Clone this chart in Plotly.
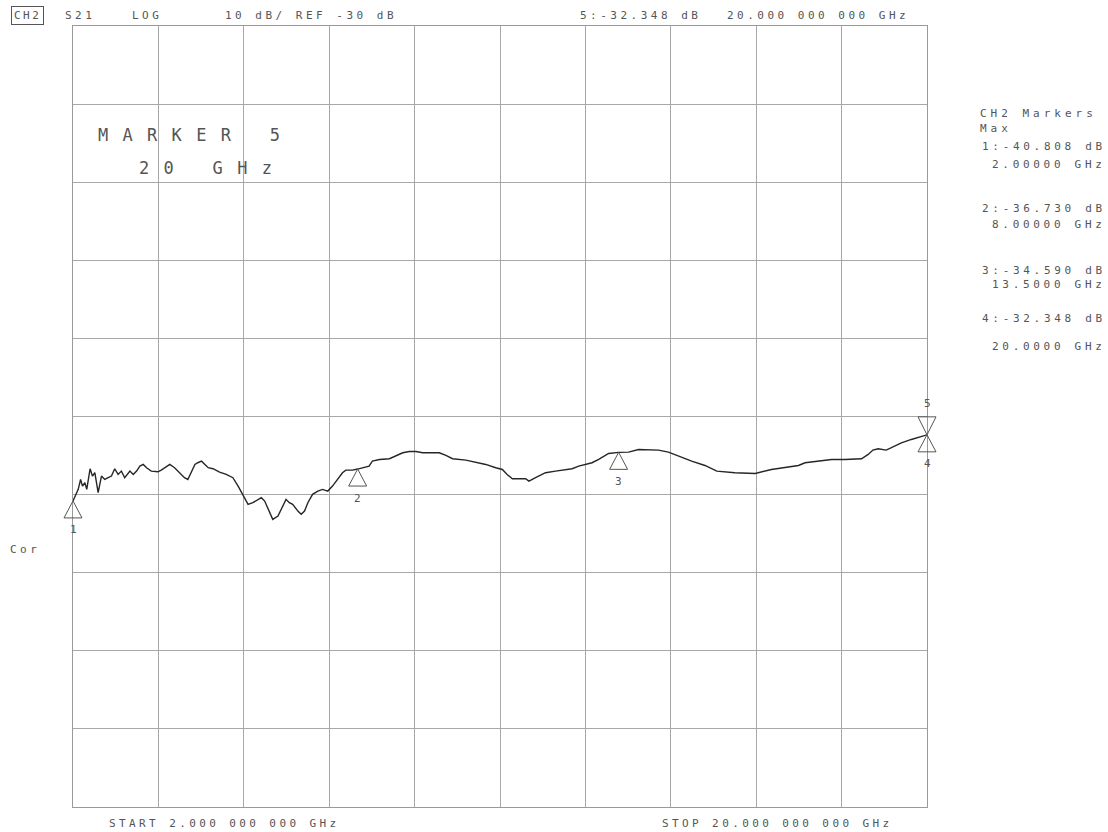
import plotly.graph_objects as go

# ---- data ----
freq_ghz = [2.00, 2.11, 2.16, 2.20, 2.25, 2.29, 2.36, 2.41, 2.46, 2.53, 2.60, 2.67, 2.74, 2.81, 2.88,
            2.95, 3.02, 3.09, 3.20, 3.27, 3.34, 3.41, 3.48, 3.55, 3.65, 3.79, 3.86, 3.97, 4.04, 4.14,
            4.25, 4.35, 4.42, 4.50, 4.57, 4.63, 4.71, 4.78, 4.85, 4.95, 5.09, 5.23, 5.37, 5.48, 5.55,
            5.62, 5.69, 5.79, 5.90, 5.97, 6.04, 6.11, 6.21, 6.32, 6.39, 6.49, 6.56, 6.63, 6.74, 6.81,
            6.88, 6.95, 7.05, 7.16, 7.26, 7.37, 7.47, 7.58, 7.68, 7.75, 7.89,
            8.00, 8.24, 8.31, 8.46, 8.67, 8.81, 8.95, 9.09, 9.23, 9.37, 9.72, 9.86, 10.00, 10.28,
            10.49, 10.70, 10.91, 11.05, 11.15, 11.26, 11.54, 11.61, 11.75, 11.96, 12.17, 12.38,
            12.52, 12.66, 12.94, 13.08, 13.29, 13.50, 13.71, 13.92,
            14.34, 14.55, 14.76, 15.04, 15.32, 15.57, 15.95, 16.38, 16.72, 17.01, 17.29, 17.43,
            17.71, 17.99, 18.27, 18.62, 18.76, 18.86, 18.97, 19.14, 19.25, 19.46, 19.67, 20.00]

s21_db = [-40.81, -39.33, -38.06, -38.91, -38.48, -39.33, -36.69, -37.63, -37.20, -39.76, -37.63,
          -38.06, -37.84, -37.63, -36.69, -37.42, -36.99, -37.84, -36.99, -37.42, -36.99, -36.35,
          -36.14, -36.56, -36.99, -37.08, -36.86, -36.35, -36.14, -36.56, -37.20, -37.84, -38.06,
          -36.99, -36.14, -35.92, -35.72, -36.14, -36.56, -36.69, -37.12, -37.42, -37.84, -38.91,
          -39.76, -40.61, -41.25, -41.04, -40.61, -40.40, -40.83, -41.89, -43.17, -42.75, -41.89,
          -40.61, -41.04, -41.25, -42.11, -42.53, -42.11, -41.04, -39.97, -39.55, -39.33, -39.55,
          -38.91, -38.06, -37.20, -36.86, -36.86,
          -36.73, -36.35, -35.72, -35.50, -35.41, -35.07, -34.64, -34.48, -34.48, -34.64, -34.64,
          -34.99, -35.41, -35.59, -35.84, -36.14, -36.56, -36.78, -37.42, -37.97, -37.97, -38.27,
          -37.84, -37.20, -36.99, -36.78, -36.69, -36.35, -35.92, -35.50, -34.73, -34.59, -34.56,
          -34.22,
          -34.30, -34.56, -35.07, -35.72, -36.27, -36.99, -37.20, -37.29, -36.78, -36.56, -36.27,
          -35.92, -35.72, -35.50, -35.50, -35.41, -34.86, -34.30, -34.13, -34.30, -34.00, -33.37,
          -32.94, -32.35]

marker_ids = ["1", "2", "3", "4", "5"]
marker_freq = [2.0, 8.0, 13.5, 20.0, 20.0]
marker_db = [-40.808, -36.730, -34.590, -32.348, -32.348]
marker_up = [True, True, True, True, False]

header_texts = ["S21", "LOG", "10 dB/ REF -30 dB", "5:-32.348 dB", "20.000 000 000 GHz"]
header_x = [63, 130, 223, 578, 725]
panel_left = ["CH2 Markers", "Max"]
panel_left_y = [114, 128]
panel_right = ["1:-40.808 dB", "2.00000 GHz", "2:-36.730 dB", "8.00000 GHz",
               "3:-34.590 dB", "13.5000 GHz", "4:-32.348 dB", "20.0000 GHz"]
panel_right_y = [146, 165, 208, 224, 270, 285, 318, 346]

X_START, X_STOP = 2.0, 20.0
Y_REF, Y_DIV = -30, 10

# ---- layout geometry (pixels) ----
W, H = 1108, 832
L, R, T, B = 73, 927, 26, 807
TXT = "#555555"
FONT = "DejaVu Sans Mono"


def px(x):
    return (x - L) / (R - L)


def py(y):
    return (B - y) / (B - T)


def xfrac(f):
    # position along the x axis domain (used so edge markers are not clipped)
    return (f - X_START) / (X_STOP - X_START)


def sp(text, ls):
    return f'<span style="letter-spacing:{ls}px">{text}</span>'


fig = go.Figure()
fig.add_trace(go.Scatter(x=freq_ghz, y=s21_db, mode="lines",
                         line=dict(color="#262626", width=1.4), hoverinfo="skip",
                         showlegend=False))

annotations = []


def add_text(text, x, y, size=11, ls=3.5, xanchor="left", **kw):
    annotations.append(dict(text=sp(text, ls), x=px(x), y=py(y), xref="paper", yref="paper",
                            xanchor=xanchor, yanchor="middle", showarrow=False,
                            font=dict(family=FONT, size=size, color=TXT), **kw))


# header
add_text("CH2", 11, 16, ls=2.5, bordercolor=TXT, borderwidth=1, borderpad=2)
for t, x in zip(header_texts, header_x):
    add_text(t, x, 15)

# right panel
for t, y in zip(panel_left, panel_left_y):
    add_text(t, 978, y, ls=4.0)
for t, y in zip(panel_right, panel_right_y):
    add_text(t, 1108, y, ls=3.7, xanchor="right")

# in-grid marker readout
add_text("MARKER 5", 96, 135, size=17, ls=14.3)
add_text("20 GHz", 137, 168, size=17, ls=14.3)

# bottom / left
add_text("START 2.000 000 000 GHz", 107, 823, ls=3.4)
add_text("STOP 20.000 000 000 GHz", 660, 823, ls=3.4)
add_text("Cor", 8, 549, ls=3.5)

# marker triangles and labels
shapes = []
for mid, f, d, up in zip(marker_ids, marker_freq, marker_db, marker_up):
    if up:
        path = "M0,0 L-9,-17 L9,-17 Z"
        shift = -29
    else:
        path = "M0,0 L-9,18 L9,18 Z"
        shift = 31
    shapes.append(dict(type="path", xref="paper", yref="y", xsizemode="pixel", ysizemode="pixel",
                       xanchor=xfrac(f), yanchor=d, path=path,
                       line=dict(color=TXT, width=1), fillcolor="rgba(0,0,0,0)"))
    annotations.append(dict(text=mid, x=f, y=d, xref="x", yref="y", showarrow=False,
                            yshift=shift, xanchor="center", yanchor="middle",
                            font=dict(family=FONT, size=11, color=TXT)))

fig.update_layout(
    width=W, height=H,
    margin=dict(l=L, r=W - R, t=T, b=H - B, pad=0),
    paper_bgcolor="white", plot_bgcolor="white",
    showlegend=False,
    annotations=annotations,
    shapes=shapes,
    xaxis=dict(range=[X_START, X_STOP], tick0=X_START, dtick=(X_STOP - X_START) / 10,
               showgrid=True, gridcolor="#a8a8a8", gridwidth=1, zeroline=False,
               showticklabels=False, ticks="", showline=True, mirror=True,
               linecolor="#999999", linewidth=1),
    yaxis=dict(range=[Y_REF - 5 * Y_DIV, Y_REF + 5 * Y_DIV], tick0=Y_REF, dtick=Y_DIV,
               showgrid=True, gridcolor="#a8a8a8", gridwidth=1, zeroline=False,
               showticklabels=False, ticks="", showline=True, mirror=True,
               linecolor="#999999", linewidth=1),
)

fig.write_html("out.html")
